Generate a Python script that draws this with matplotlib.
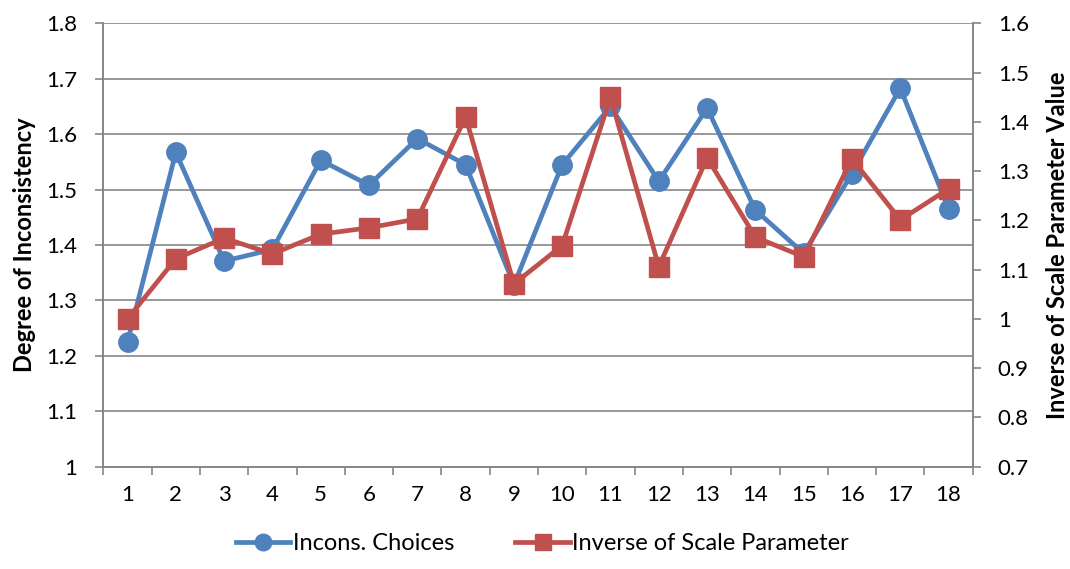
import matplotlib
matplotlib.use("Agg")
import matplotlib.pyplot as plt
from matplotlib.ticker import FixedLocator, MultipleLocator, FuncFormatter

plt.rcParams["font.family"] = ["Lato", "DejaVu Sans"]

runs = list(range(1, 19))
incons_choices = [1.225, 1.567, 1.371, 1.392, 1.553, 1.508, 1.592, 1.545, 1.328,
                  1.545, 1.650, 1.515, 1.647, 1.463, 1.385, 1.529, 1.683, 1.465]
inv_scale = [1.000, 1.122, 1.164, 1.132, 1.172, 1.185, 1.203, 1.410, 1.071,
             1.149, 1.450, 1.106, 1.327, 1.166, 1.126, 1.325, 1.201, 1.264]

BLUE = "#4F81BD"
RED = "#C0504D"
GRAY = "#868686"

fig = plt.figure(figsize=(10.70, 5.69), dpi=100)
ax = fig.add_axes([0.0966, 0.1798, 0.8125, 0.7792])
ax2 = ax.twinx()

b, = ax.plot(runs, incons_choices, color=BLUE, lw=3.4, marker="o", ms=14,
             label="Incons. Choices", solid_joinstyle="round")
r, = ax2.plot(runs, inv_scale, color=RED, lw=3.4, marker="s", ms=14,
              label="Inverse of Scale Parameter", solid_joinstyle="round")

ax.set_xlim(0.5, 18.5)
ax.set_ylim(1.0, 1.8)
ax2.set_ylim(0.7, 1.6)

# whole numbers shown without decimals, like "1"
fmt = FuncFormatter(lambda v, _: f"{v:.0f}" if abs(v - round(v)) < 1e-9 else f"{v:.1f}")
ax.yaxis.set_major_locator(MultipleLocator(0.1))
ax2.yaxis.set_major_locator(MultipleLocator(0.1))
ax.yaxis.set_major_formatter(fmt)
ax2.yaxis.set_major_formatter(fmt)

# category labels centred, tick marks between categories
ax.set_xticks(runs)
ax.xaxis.set_minor_locator(FixedLocator([i + 0.5 for i in range(0, 19)]))
ax.tick_params(axis="x", which="major", length=0, pad=13, labelsize=16)
ax.tick_params(axis="x", which="minor", length=6, width=1.2, color=GRAY, direction="out")
ax.tick_params(axis="y", length=6, width=1.2, color=GRAY, pad=13, labelsize=16)
ax2.tick_params(axis="y", length=6, width=1.2, color=GRAY, pad=12, labelsize=16)

ax.grid(axis="y", color=GRAY, lw=1.2)
ax.set_axisbelow(True)

for a in (ax, ax2):
    a.spines["top"].set_visible(False)
    for s in ("left", "right", "bottom"):
        a.spines[s].set_color(GRAY)
        a.spines[s].set_linewidth(1.2)

ax.set_ylabel("Degree of Inconsistency", fontsize=17, fontweight="bold", labelpad=7)
ax2.set_ylabel("Inverse of Scale Parameter Value", fontsize=17, fontweight="bold", labelpad=12)

fig.legend(handles=[b, r], loc="center", bbox_to_anchor=(0.507, 0.045), ncol=2,
           frameon=False, fontsize=17, handlelength=2.3, columnspacing=2.6,
           handletextpad=0.1, markerscale=0.85)

fig.savefig("out.png", dpi=100)
